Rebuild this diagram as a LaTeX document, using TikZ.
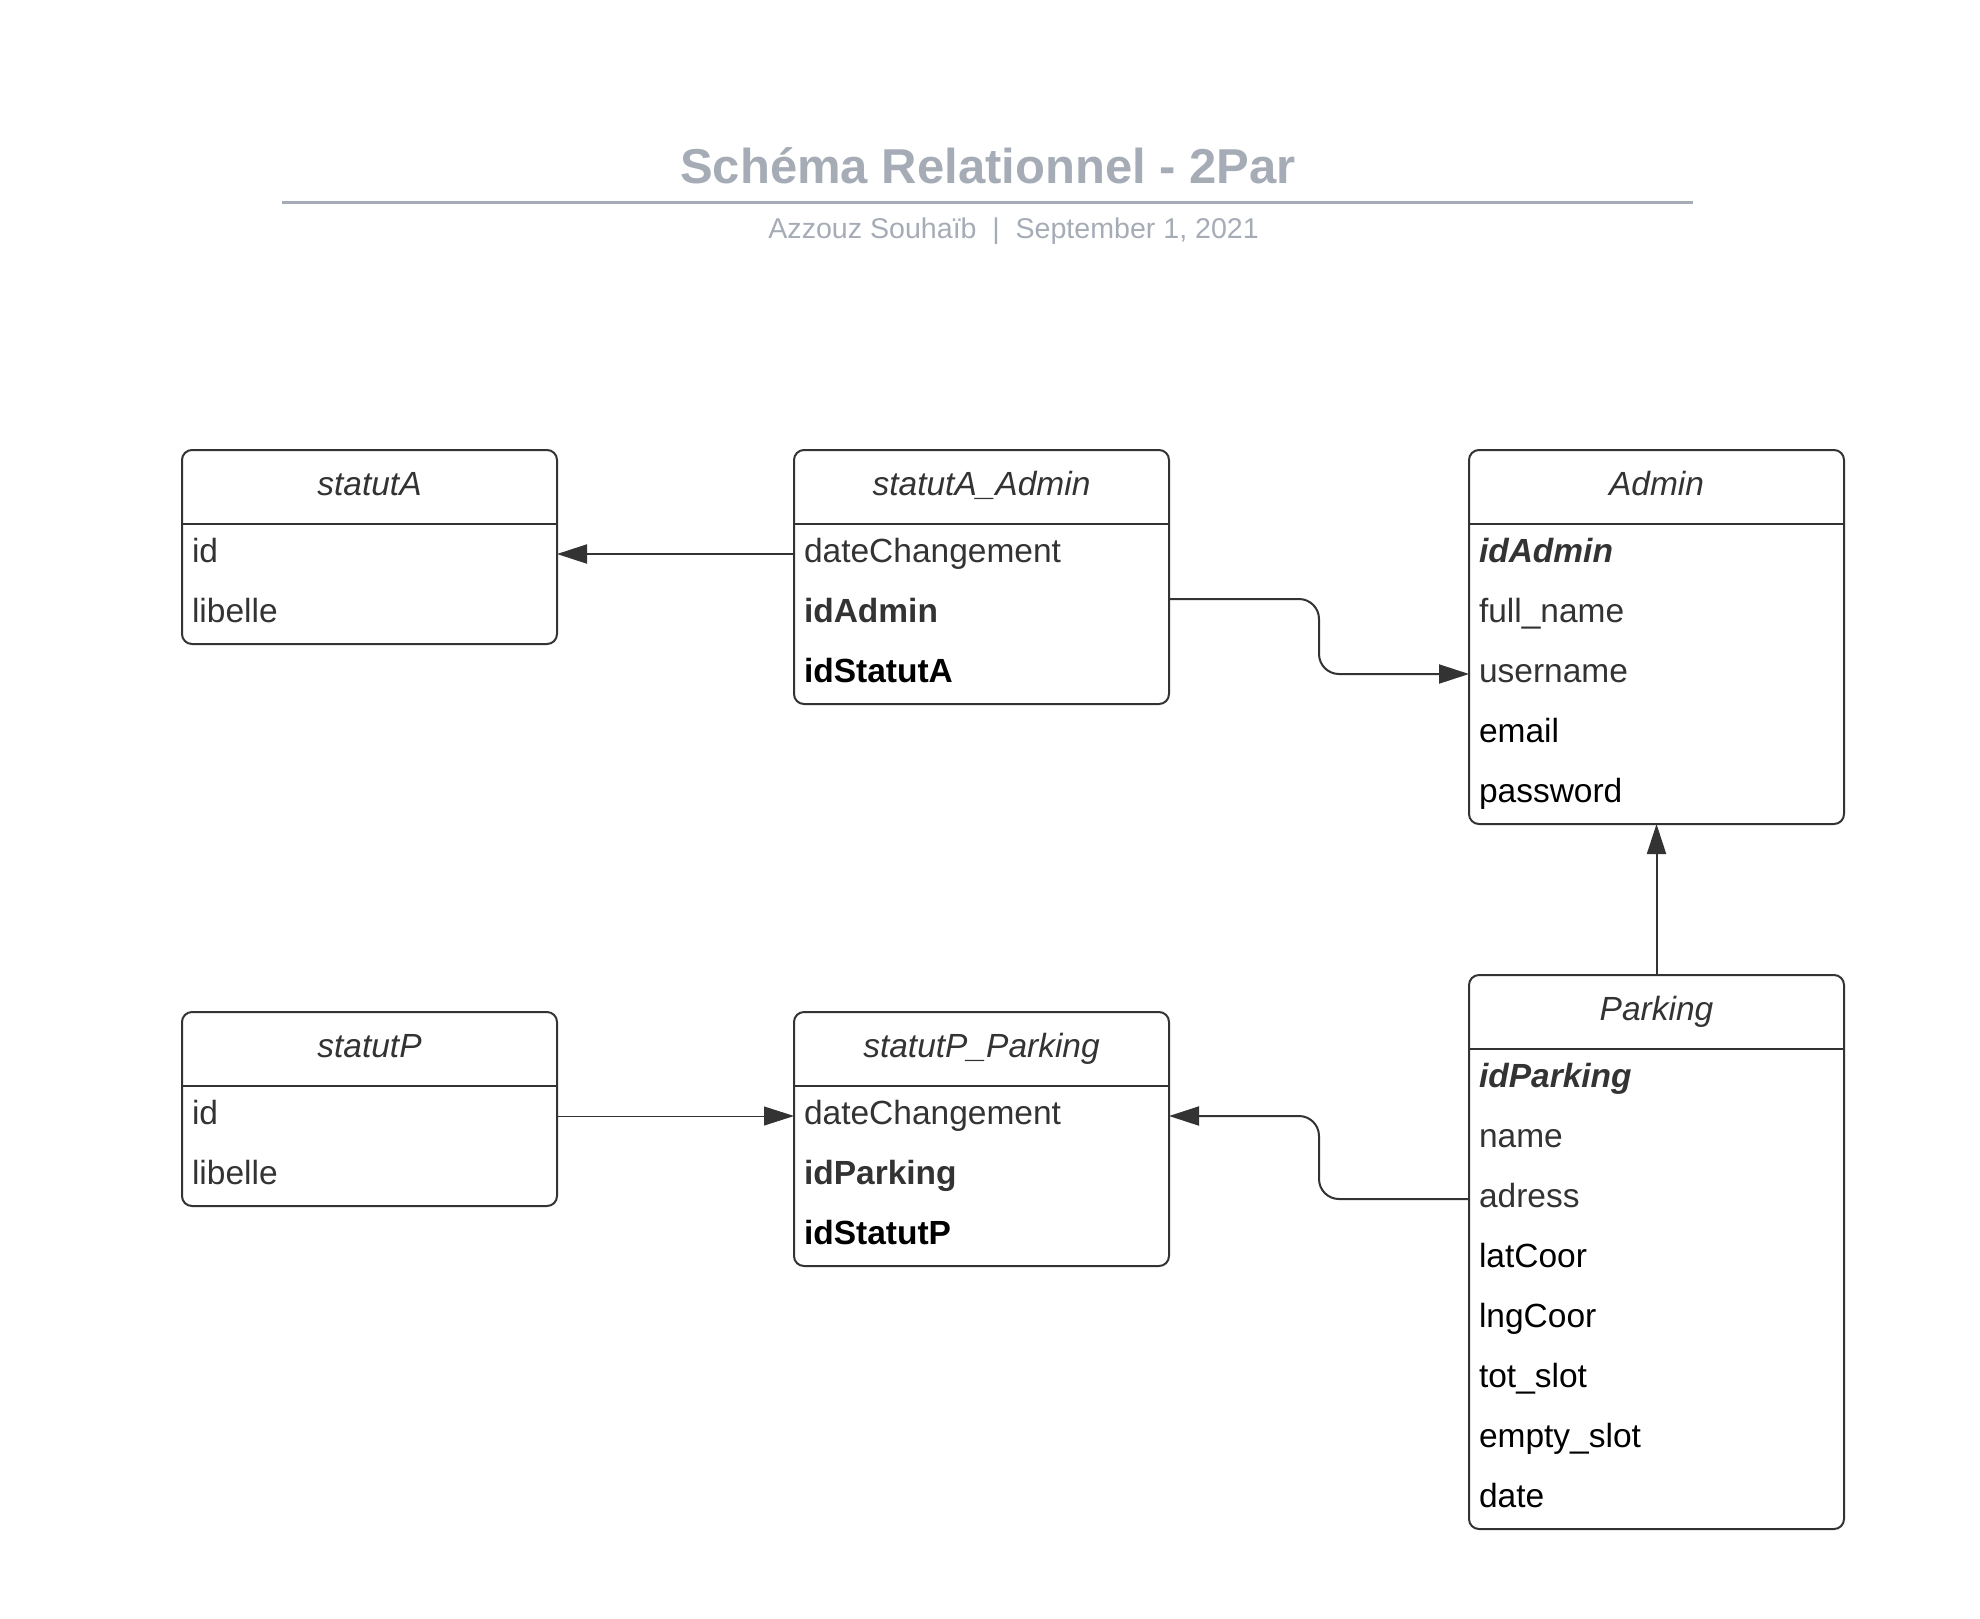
\documentclass[tikz,border=0pt]{standalone}
\usepackage{fontspec}
\setmainfont{Liberation Sans}
\usetikzlibrary{arrows.meta,calc}
\definecolor{ink}{HTML}{333333}
\definecolor{titlegray}{RGB}{166,172,182}
\begin{document}
\begin{tikzpicture}[x=0.5pt,y=-0.5pt,
  tbl/.style={draw=ink, line width=1pt, rounded corners=5pt, minimum width=187.5pt, outer sep=0pt, inner sep=0pt, anchor=north west},
  hdr/.style={font=\fontsize{16.75pt}{20pt}\selectfont\itshape, text=ink, text height=12.6pt, text depth=4.2pt, inner sep=0pt},
  rowc/.style={anchor=west, minimum width=187.5pt, minimum height=30pt, text width=177.5pt, inner xsep=5pt, inner ysep=0pt, align=left, font=\fontsize{16.75pt}{20pt}\selectfont, text=ink, text height=12.6pt, text depth=4.2pt, outer sep=0pt},
  blk/.style={text=black},
  bf/.style={font=\fontsize{16.75pt}{20pt}\selectfont\bfseries},
  bfit/.style={font=\fontsize{16.75pt}{20pt}\selectfont\bfseries\itshape},
  sepline/.style={draw=ink, line width=1pt},
  conn/.style={draw=ink, line width=1pt, -{Triangle[length=15pt,width=9.5pt]}, rounded corners=10pt},
]
\useasboundingbox (0,0) rectangle (1980,1618);

% title
\node[anchor=base, font=\fontsize{24.5pt}{29pt}\selectfont\bfseries, text=titlegray, inner sep=0pt] (title) at (988,183) {Schéma Relationnel - 2Par};
\coordinate (tl1) at (282,202);
\coordinate (tl2) at (1693,202);
\draw[titlegray, line width=1.5pt] (tl1) -- (tl2);
\node[anchor=base west, font=\fontsize{14.3pt}{17pt}\selectfont, text=titlegray, inner sep=0pt] (sub) at (768,238) {Azzouz Souhaïb\hspace{0.55em}|\hspace{0.55em}September 1, 2021};

% statutA
\node[tbl, minimum height=97pt] (sa) at (182,450) {};
\node[hdr] (sa-t) at ($(sa.north)+(0,37)$) {statutA};
\draw[sepline] ($(sa.north west)+(0,74)$) -- ($(sa.north east)+(0,74)$);
\node[rowc] (sa-r1) at ($(sa.north west)+(0,104)$) {id};
\node[rowc] (sa-r2) at ($(sa.north west)+(0,164)$) {libelle};

% statutA_Admin
\node[tbl, minimum height=127pt] (saa) at (794,450) {};
\node[hdr] (saa-t) at ($(saa.north)+(0,37)$) {statutA\_Admin};
\draw[sepline] ($(saa.north west)+(0,74)$) -- ($(saa.north east)+(0,74)$);
\node[rowc] (saa-r1) at ($(saa.north west)+(0,104)$) {dateChangement};
\node[rowc, bf] (saa-r2) at ($(saa.north west)+(0,164)$) {idAdmin};
\node[rowc, bf, blk] (saa-r3) at ($(saa.north west)+(0,224)$) {idStatutA};

% Admin
\node[tbl, minimum height=187pt] (ad) at (1469,450) {};
\node[hdr] (ad-t) at ($(ad.north)+(0,37)$) {Admin};
\draw[sepline] ($(ad.north west)+(0,74)$) -- ($(ad.north east)+(0,74)$);
\node[rowc, bfit] (ad-r1) at ($(ad.north west)+(0,104)$) {idAdmin};
\node[rowc] (ad-r2) at ($(ad.north west)+(0,164)$) {full\_name};
\node[rowc] (ad-r3) at ($(ad.north west)+(0,224)$) {username};
\node[rowc, blk] (ad-r4) at ($(ad.north west)+(0,284)$) {email};
\node[rowc, blk] (ad-r5) at ($(ad.north west)+(0,344)$) {password};

% statutP
\node[tbl, minimum height=97pt] (sp) at (182,1012) {};
\node[hdr] (sp-t) at ($(sp.north)+(0,37)$) {statutP};
\draw[sepline] ($(sp.north west)+(0,74)$) -- ($(sp.north east)+(0,74)$);
\node[rowc] (sp-r1) at ($(sp.north west)+(0,104)$) {id};
\node[rowc] (sp-r2) at ($(sp.north west)+(0,164)$) {libelle};

% statutP_Parking
\node[tbl, minimum height=127pt] (spp) at (794,1012) {};
\node[hdr] (spp-t) at ($(spp.north)+(0,37)$) {statutP\_Parking};
\draw[sepline] ($(spp.north west)+(0,74)$) -- ($(spp.north east)+(0,74)$);
\node[rowc] (spp-r1) at ($(spp.north west)+(0,104)$) {dateChangement};
\node[rowc, bf] (spp-r2) at ($(spp.north west)+(0,164)$) {idParking};
\node[rowc, bf, blk] (spp-r3) at ($(spp.north west)+(0,224)$) {idStatutP};

% Parking
\node[tbl, minimum height=277pt] (pk) at (1469,975) {};
\node[hdr] (pk-t) at ($(pk.north)+(0,37)$) {Parking};
\draw[sepline] ($(pk.north west)+(0,74)$) -- ($(pk.north east)+(0,74)$);
\node[rowc, bfit] (pk-r1) at ($(pk.north west)+(0,104)$) {idParking};
\node[rowc] (pk-r2) at ($(pk.north west)+(0,164)$) {name};
\node[rowc] (pk-r3) at ($(pk.north west)+(0,224)$) {adress};
\node[rowc, blk] (pk-r4) at ($(pk.north west)+(0,284)$) {latCoor};
\node[rowc, blk] (pk-r5) at ($(pk.north west)+(0,344)$) {lngCoor};
\node[rowc, blk] (pk-r6) at ($(pk.north west)+(0,404)$) {tot\_slot};
\node[rowc, blk] (pk-r7) at ($(pk.north west)+(0,464)$) {empty\_slot};
\node[rowc, blk] (pk-r8) at ($(pk.north west)+(0,524)$) {date};

% connectors
\draw[conn] (saa-r1.west) -- (sa-r1.east);
\coordinate (c2) at ($(saa-r2.east)+(0,-15)$);
\coordinate (m2) at ($(c2)!0.5!(ad-r3.west)$);
\draw[conn] (c2) -| (m2 |- ad-r3.west) -- (ad-r3.west);
\draw[conn] (pk.north) -- (ad.south);
\draw[conn, line width=0.5pt] (sp-r1.east) -- (spp-r1.west);
\coordinate (m5) at ($(pk-r3.west)!0.5!(spp-r1.east)$);
\draw[conn] (pk-r3.west) -| (m5 |- spp-r1.east) -- (spp-r1.east);
\end{tikzpicture}
\end{document}
